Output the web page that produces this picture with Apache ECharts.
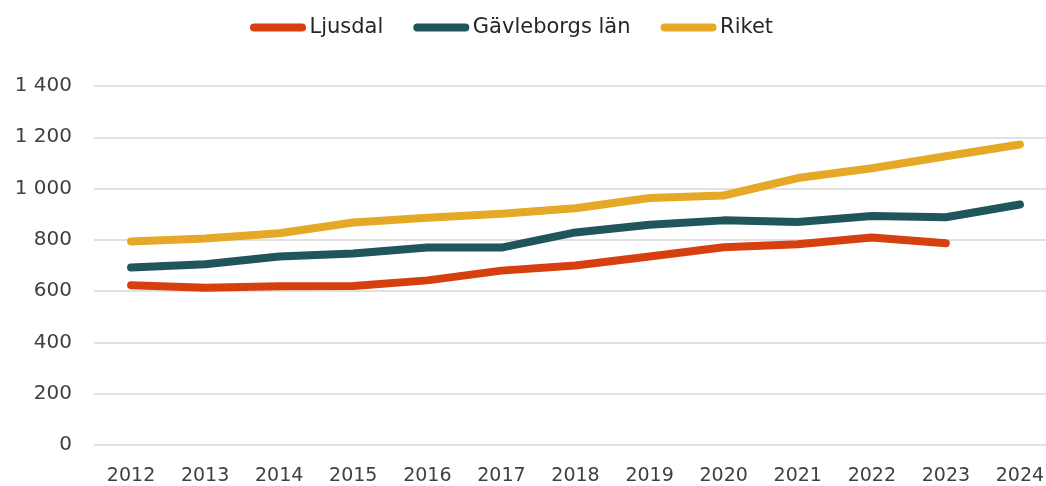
<!DOCTYPE html>
<html>
<head>
<meta charset="utf-8">
<script src="https://cdn.jsdelivr.net/npm/echarts@6/dist/echarts.min.js"></script>
<style>
  html, body { margin: 0; padding: 0; background: #fff; }
  #chart { width: 1046px; height: 486px; }
</style>
</head>
<body>
<div id="chart"></div>
<script>
  const years = ['2012', '2013', '2014', '2015', '2016', '2017', '2018', '2019', '2020', '2021', '2022', '2023', '2024'];
  const ljusdal = [623, 613, 619, 620, 642, 680, 700, 735, 771, 783, 809, 787, null];
  const gavleborg = [692, 705, 735, 747, 770, 770, 829, 859, 876, 870, 893, 888, 938];
  const riket = [794, 805, 826, 868, 886, 902, 923, 963, 973, 1041, 1079, 1126, 1172];
  const names = ['Ljusdal', 'Gävleborgs län', 'Riket'];
  const colors = ['#d63f0e', '#1f555b', '#e5a827'];

  const font = 'DejaVu Sans';
  const pill = 'path://M4,0 H52 A4,4 0 0 1 52,8 H4 A4,4 0 0 1 4,0 Z';

  function makeLine(name, data, color) {
    return {
      name: name,
      type: 'line',
      data: data,
      showSymbol: false,
      symbol: 'none',
      lineStyle: { width: 8, color: color, cap: 'round', join: 'round' },
      itemStyle: { color: color },
      emphasis: { disabled: true },
    };
  }

  const chart = echarts.init(document.getElementById('chart'));
  const option = {
    animation: false,
    color: colors,
    legend: {
      top: 12,
      left: 245,
      itemWidth: 57,
      itemHeight: 8,
      itemGap: 30,
      icon: pill,
      textStyle: { fontFamily: font, fontSize: 21, color: '#262626', padding: [0, 0, 0, -2] },
      data: names,
    },
    grid: {
      left: 94,
      width: 963,
      top: 86,
      bottom: 41,
      containLabel: false,
      outerBoundsMode: 'none',
    },
    xAxis: {
      type: 'category',
      data: years,
      boundaryGap: true,
      axisLine: { show: false },
      axisTick: { show: false },
      axisLabel: { fontFamily: font, fontSize: 19, color: '#404040', margin: 22 },
    },
    yAxis: {
      type: 'value',
      min: 0,
      max: 1400,
      interval: 200,
      axisLine: { show: false },
      axisTick: { show: false },
      splitLine: { lineStyle: { color: '#d9d9d9', width: 1.5 } },
      axisLabel: {
        fontFamily: font,
        fontSize: 20,
        color: '#404040',
        margin: 22,
        formatter(v) {
          return String(v).replace(/\B(?=(\d{3})+(?!\d))/g, ' ');
        },
      },
    },
    series: [
      makeLine(names[0], ljusdal, colors[0]),
      makeLine(names[1], gavleborg, colors[1]),
      makeLine(names[2], riket, colors[2]),
    ],
  };
  chart.setOption(option);
</script>
</body>
</html>
